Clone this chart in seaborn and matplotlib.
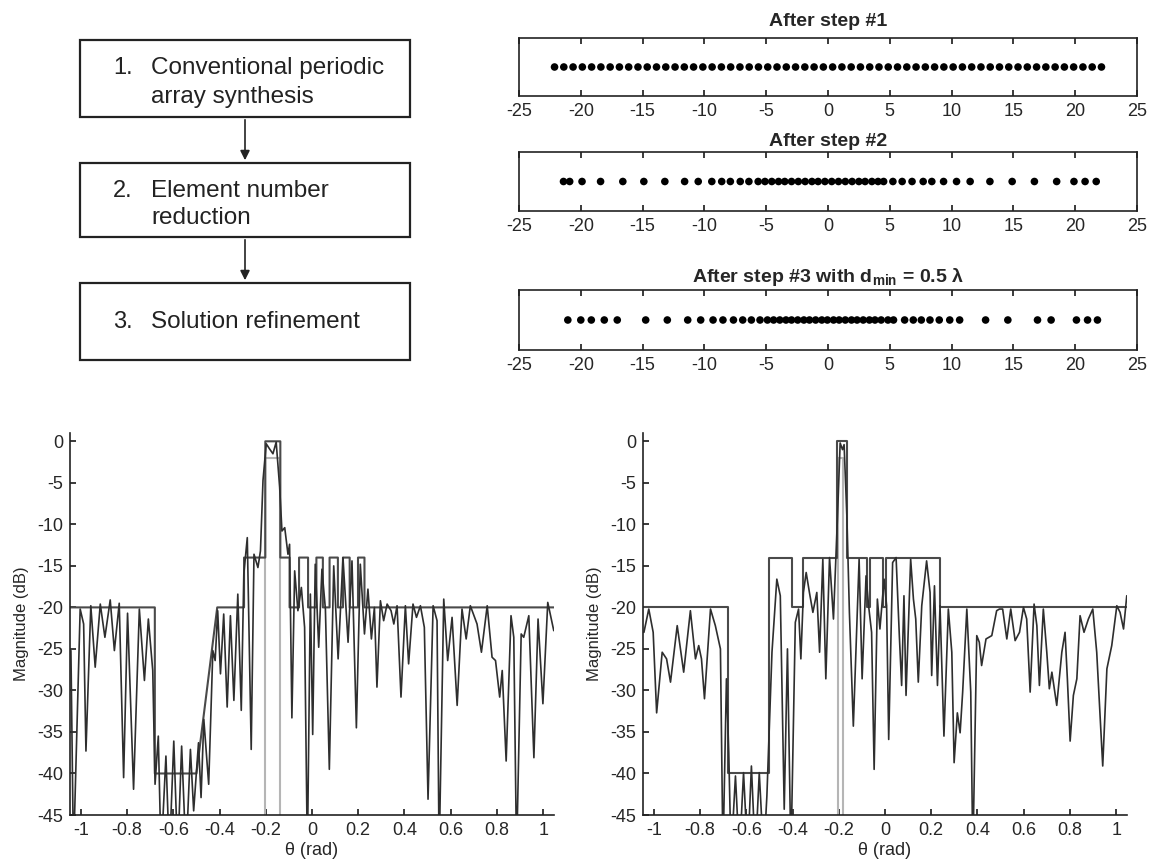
import matplotlib
matplotlib.use("Agg")
import matplotlib.pyplot as plt
from matplotlib.patches import Rectangle
import seaborn as sns

# ---- flowchart text
step_nums = ["1.", "2.", "3."]
step_lines = [["Conventional periodic", "array synthesis"], ["Element number", "reduction"], ["Solution refinement"]]

# ---- element positions (lambda) read from the strips
pos_step1 = [-22.125, -21.375, -20.625, -19.875, -19.125, -18.375, -17.625, -16.875, -16.125, -15.375,
             -14.625, -13.875, -13.125, -12.375, -11.625, -10.875, -10.125, -9.375, -8.625, -7.875,
             -7.125, -6.375, -5.625, -4.875, -4.125, -3.375, -2.625, -1.875, -1.125, -0.375,
             0.375, 1.125, 1.875, 2.625, 3.375, 4.125, 4.875, 5.625, 6.375, 7.125,
             7.875, 8.625, 9.375, 10.125, 10.875, 11.625, 12.375, 13.125, 13.875, 14.625,
             15.375, 16.125, 16.875, 17.625, 18.375, 19.125, 19.875, 20.625, 21.375, 22.125]
pos_step2 = [-21.4, -20.9, -19.9, -18.4, -16.6, -14.9, -13.2, -11.6, -10.5, -9.4,
             -8.6, -7.9, -7.1, -6.4, -5.65, -5.1, -4.55, -4.0, -3.5, -2.95,
             -2.4, -1.85, -1.3, -0.8, -0.25, 0.3, 0.85, 1.4, 1.95, 2.5,
             3.0, 3.55, 4.05, 4.5, 5.25, 6.0, 6.8, 7.7, 8.4, 9.35,
             10.4, 11.5, 13.1, 14.9, 16.7, 18.5, 19.9, 20.8, 21.7]
pos_step3 = [-21.05, -20.0, -19.15, -18.1, -17.05, -14.75, -13.0, -11.35, -10.3, -9.3,
             -8.5, -7.65, -6.9, -6.2, -5.5, -4.9, -4.4, -3.9, -3.4, -2.95,
             -2.45, -1.95, -1.5, -1.0, -0.5, -0.05, 0.45, 0.9, 1.4, 1.9,
             2.35, 2.85, 3.35, 3.8, 4.3, 4.85, 5.3, 6.2, 6.9, 7.55,
             8.25, 9.0, 9.85, 10.65, 12.75, 14.55, 16.95, 18.05, 20.1, 21.0, 21.8]
strip_titles = ["After step #1", "After step #2",
                r"After step #3 with d$_{\mathbf{min}}$ = 0.5 $\mathbf{\lambda}$"]

# ---- left pattern (peaks / nulls), -50 = below axis
theta_a = [-1.043, -1.032, -1.003, -0.988, -0.978, -0.957, -0.938, -0.916, -0.896, -0.873,
           -0.855, -0.834, -0.815, -0.798, -0.772, -0.747, -0.725, -0.708, -0.689, -0.679,
           -0.665, -0.653, -0.632, -0.617, -0.598, -0.581, -0.564, -0.545, -0.526, -0.512,
           -0.491, -0.480, -0.468, -0.447, -0.429, -0.419, -0.408, -0.396, -0.382, -0.367,
           -0.353, -0.338, -0.321, -0.306, -0.295, -0.280, -0.263, -0.251, -0.234, -0.223,
           -0.212, -0.198, -0.184, -0.169, -0.155, -0.140, -0.130, -0.118, -0.104, -0.097,
           -0.087, -0.075, -0.061, -0.046, -0.032, -0.020, -0.007, 0.003, 0.014, 0.029,
           0.043, 0.058, 0.075, 0.094, 0.113, 0.134, 0.156, 0.173, 0.192, 0.209,
           0.227, 0.242, 0.257, 0.270, 0.281, 0.296, 0.310, 0.325, 0.342, 0.354,
           0.368, 0.385, 0.404, 0.418, 0.437, 0.452, 0.469, 0.486, 0.502, 0.524,
           0.541, 0.550, 0.570, 0.587, 0.606, 0.628, 0.649, 0.667, 0.685, 0.714,
           0.733, 0.758, 0.779, 0.794, 0.812, 0.823, 0.840, 0.861, 0.873, 0.885,
           0.905, 0.916, 0.938, 0.960, 0.978, 0.999, 1.020, 1.046]
mag_a = [-25.2, -50, -20.2, -22.0, -37.3, -19.8, -27.2, -19.6, -23.6, -19.1,
         -25.2, -19.5, -40.5, -20.7, -41.9, -20.2, -28.8, -21.4, -27.6, -41.3,
         -35.5, -50, -37.9, -50, -36.1, -50, -36.7, -50, -37.1, -44.5,
         -36.3, -42.9, -33.5, -41.3, -25.2, -26.4, -20.4, -28.0, -20.8, -32.0,
         -21.0, -31.2, -18.4, -32.4, -16.0, -11.6, -37.1, -13.6, -15.2, -13.2,
         -4.7, -0.3, -0.9, -1.5, -0.1, -5.5, -10.8, -10.4, -13.6, -12.4,
         -33.3, -15.6, -20.4, -17.6, -22.4, -50, -18.4, -35.3, -14.8, -24.8,
         -15.4, -20.2, -39.5, -15.0, -26.2, -14.0, -24.2, -14.4, -34.5, -14.8,
         -23.2, -17.8, -23.8, -20.0, -29.6, -19.2, -21.6, -19.6, -20.4, -22.0,
         -19.8, -30.8, -19.8, -26.8, -19.6, -21.2, -19.8, -22.4, -43.1, -19.8,
         -21.6, -50, -19.0, -26.4, -21.2, -31.8, -20.2, -23.8, -19.8, -22.0,
         -25.4, -19.8, -26.0, -26.4, -30.8, -27.6, -38.5, -21.0, -23.6, -50,
         -23.2, -23.6, -21.0, -38.1, -21.4, -31.6, -19.4, -22.8]
mask_a_x = [-1.047, -0.68, -0.68, -0.50, -0.41, -0.294, -0.294, -0.202, -0.202, -0.137,
            -0.137, -0.097, -0.097, -0.056, -0.056, -0.017, -0.017, 0.019, 0.019, 0.047,
            0.047, 0.076, 0.076, 0.112, 0.112, 0.134, 0.134, 0.163, 0.163, 0.199,
            0.199, 0.227, 0.227, 1.047]
mask_a_y = [-20, -20, -40, -40, -20, -20, -14, -14, 0, 0,
            -14, -14, -20, -20, -14, -14, -20, -20, -14, -14,
            -20, -20, -14, -14, -20, -20, -14, -14, -20, -20,
            -14, -14, -20, -20]
lower_a_x = [-0.202, -0.202, -0.137, -0.137]
lower_a_y = [-50, -2, -2, -50]

# ---- right pattern
theta_b = [-1.043, -1.022, -1.003, -0.988, -0.964, -0.945, -0.928, -0.899, -0.871, -0.842,
           -0.820, -0.806, -0.794, -0.781, -0.755, -0.734, -0.712, -0.701, -0.686, -0.676,
           -0.666, -0.647, -0.630, -0.612, -0.594, -0.578, -0.561, -0.544, -0.525, -0.511,
           -0.489, -0.468, -0.453, -0.436, -0.422, -0.407, -0.388, -0.374, -0.364, -0.353,
           -0.341, -0.327, -0.312, -0.295, -0.283, -0.269, -0.256, -0.240, -0.223, -0.206,
           -0.194, -0.184, -0.177, -0.165, -0.154, -0.137, -0.112, -0.099, -0.082, -0.071,
           -0.058, -0.047, -0.033, -0.022, -0.004, 0.007, 0.016, 0.033, 0.048, 0.062,
           0.072, 0.082, 0.091, 0.111, 0.123, 0.133, 0.144, 0.159, 0.180, 0.195,
           0.202, 0.214, 0.227, 0.238, 0.255, 0.274, 0.289, 0.299, 0.313, 0.325,
           0.336, 0.354, 0.371, 0.380, 0.397, 0.408, 0.418, 0.437, 0.462, 0.483,
           0.495, 0.509, 0.527, 0.544, 0.563, 0.582, 0.599, 0.613, 0.628, 0.645,
           0.657, 0.668, 0.685, 0.700, 0.711, 0.722, 0.743, 0.765, 0.779, 0.789,
           0.801, 0.815, 0.830, 0.844, 0.861, 0.880, 0.899, 0.916, 0.942, 0.960,
           0.981, 1.003, 1.017, 1.032, 1.046]
mag_b = [-23.0, -20.2, -23.0, -32.7, -25.4, -26.2, -29.0, -22.2, -27.8, -20.4,
         -26.2, -24.6, -26.2, -31.0, -20.2, -22.2, -25.0, -50, -28.6, -37.5,
         -50, -40.3, -50, -39.9, -50, -39.1, -50, -39.9, -50, -42.7,
         -25.4, -16.6, -18.6, -44.3, -25.0, -50, -21.8, -20.2, -26.2, -18.2,
         -15.8, -18.2, -20.6, -18.2, -25.4, -14.2, -28.6, -14.0, -21.4, -9.4,
         -0.2, -1.0, -0.4, -9.0, -20.6, -34.3, -14.2, -28.6, -16.2, -19.8,
         -23.0, -39.5, -19.0, -22.6, -16.6, -19.8, -35.9, -14.6, -14.0, -23.4,
         -29.4, -18.6, -30.6, -14.2, -19.0, -21.4, -29.0, -19.8, -14.4, -18.2,
         -28.2, -17.4, -29.4, -19.8, -35.5, -20.2, -25.4, -38.7, -32.7, -35.1,
         -30.2, -20.2, -30.2, -50, -23.4, -24.2, -27.0, -23.8, -23.4, -20.4,
         -20.2, -20.2, -23.8, -20.2, -24.0, -23.0, -20.0, -21.4, -30.2, -19.6,
         -22.2, -29.4, -20.2, -25.4, -29.8, -27.8, -31.8, -25.4, -23.0, -28.6,
         -36.1, -30.6, -28.6, -21.0, -23.0, -21.4, -20.2, -25.4, -39.1, -27.4,
         -24.6, -19.8, -20.6, -22.6, -18.6]
mask_b_x = [-1.047, -0.68, -0.68, -0.504, -0.504, -0.404, -0.404, -0.353, -0.353, -0.209,
            -0.209, -0.165, -0.165, -0.079, -0.079, -0.067, -0.067, -0.008, -0.008, 0.004,
            0.004, 0.238, 0.238, 1.047]
mask_b_y = [-20, -20, -40, -40, -14, -14, -20, -20, -14, -14,
            0, 0, -14, -14, -20, -20, -14, -14, -20, -20,
            -14, -14, -20, -20]
lower_b_x = [-0.203, -0.203, -0.18, -0.18]
lower_b_y = [-50, -2, -2, -50]

theta_ticks = [-1, -0.8, -0.6, -0.4, -0.2, 0, 0.2, 0.4, 0.6, 0.8, 1]
theta_labels = ["-1", "-0.8", "-0.6", "-0.4", "-0.2", "0", "0.2", "0.4", "0.6", "0.8", "1"]
db_ticks = [0, -5, -10, -15, -20, -25, -30, -35, -40, -45]
pos_ticks = [-25, -20, -15, -10, -5, 0, 5, 10, 15, 20, 25]

sns.set_theme(style="white")
plt.rcParams['font.family'] = ['Liberation Sans', 'DejaVu Sans']
plt.rcParams['mathtext.fontset'] = 'custom'
plt.rcParams['mathtext.rm'] = 'Liberation Sans'
plt.rcParams['mathtext.bf'] = 'Liberation Sans:bold'
plt.rcParams['axes.unicode_minus'] = False

W, H = 1152, 863
fig = plt.figure(figsize=(11.52, 8.63), dpi=100)

# flowchart drawn in pixel-space axes
bg = fig.add_axes([0, 0, 1, 1])
bg.set_xlim(0, W)
bg.set_ylim(H, 0)
bg.axis("off")
box_tops = [40, 163, 283]
box_bots = [117, 237, 360]
line_ys = [[68, 97], [191, 218], [322]]
for i in range(3):
    bg.add_patch(Rectangle((80, box_tops[i]), 330, box_bots[i] - box_tops[i],
                           fill=False, ec="#222222", lw=1.6))
    bg.text(113, line_ys[i][0], step_nums[i], fontsize=17, va="center", color="#222222")
    for txt, y in zip(step_lines[i], line_ys[i]):
        bg.text(151, y, txt, fontsize=17.5, va="center", color="#222222")
for i in range(2):
    bg.annotate("", xy=(245, box_tops[i + 1]), xytext=(245, box_bots[i]),
                arrowprops=dict(arrowstyle="-|>", color="#222222", lw=1.2, mutation_scale=14))

# element strips
strip_rects = [(38, 96), (152, 211), (290, 350)]
title_pads = [9, 4, 6]
for pos, title, (t, b), tp in zip([pos_step1, pos_step2, pos_step3], strip_titles, strip_rects, title_pads):
    ax = fig.add_axes([519 / W, 1 - b / H, 618 / W, (b - t) / H])
    sns.scatterplot(x=pos, y=[0] * len(pos), ax=ax, color="black", s=30, edgecolor="none")
    ax.set_xlim(-25, 25)
    ax.set_ylim(-1, 1)
    ax.set_yticks([])
    ax.set_xticks(pos_ticks)
    ax.set_xticklabels([str(v) for v in pos_ticks], fontsize=13)
    ax.tick_params(axis="x", direction="in", length=4, top=True, bottom=True, pad=5, color="#222222")
    for s in ax.spines.values():
        s.set_color("#222222")
        s.set_linewidth(1.2)
    ax.set_title(title, fontsize=14, fontweight="bold", pad=tp)

# radiation patterns
pattern_sets = [
    (70, theta_a, mag_a, mask_a_x, mask_a_y, lower_a_x, lower_a_y),
    (643, theta_b, mag_b, mask_b_x, mask_b_y, lower_b_x, lower_b_y),
]
for x0, th, mg, mx, my, lx, ly in pattern_sets:
    ax = fig.add_axes([x0 / W, 1 - 815 / H, 484 / W, 382 / H])
    sns.lineplot(x=lx, y=ly, ax=ax, sort=False, estimator=None, color="#b5b5b5", lw=1.5)
    sns.lineplot(x=mx, y=my, ax=ax, sort=False, estimator=None, color="#4a4a4a", lw=1.5)
    sns.lineplot(x=th, y=mg, ax=ax, sort=False, estimator=None, color="#2e2e2e", lw=1.2)
    ax.set_xlim(-1.047, 1.047)
    ax.set_ylim(-45, 1)
    ax.set_xticks(theta_ticks)
    ax.set_xticklabels(theta_labels, fontsize=13)
    ax.set_yticks(db_ticks)
    ax.set_yticklabels([str(v) for v in db_ticks], fontsize=13)
    ax.tick_params(direction="in", length=4, color="#222222", pad=5)
    ax.tick_params(axis="x", bottom=True)
    ax.tick_params(axis="y", left=True)
    sns.despine(ax=ax)
    for s in ["left", "bottom"]:
        ax.spines[s].set_color("#222222")
        ax.spines[s].set_linewidth(1.2)
    ax.set_xlabel("θ (rad)", fontsize=13, labelpad=2)
    ax.set_ylabel("Magnitude (dB)", fontsize=12, labelpad=6)

fig.savefig("out.png", dpi=100)
